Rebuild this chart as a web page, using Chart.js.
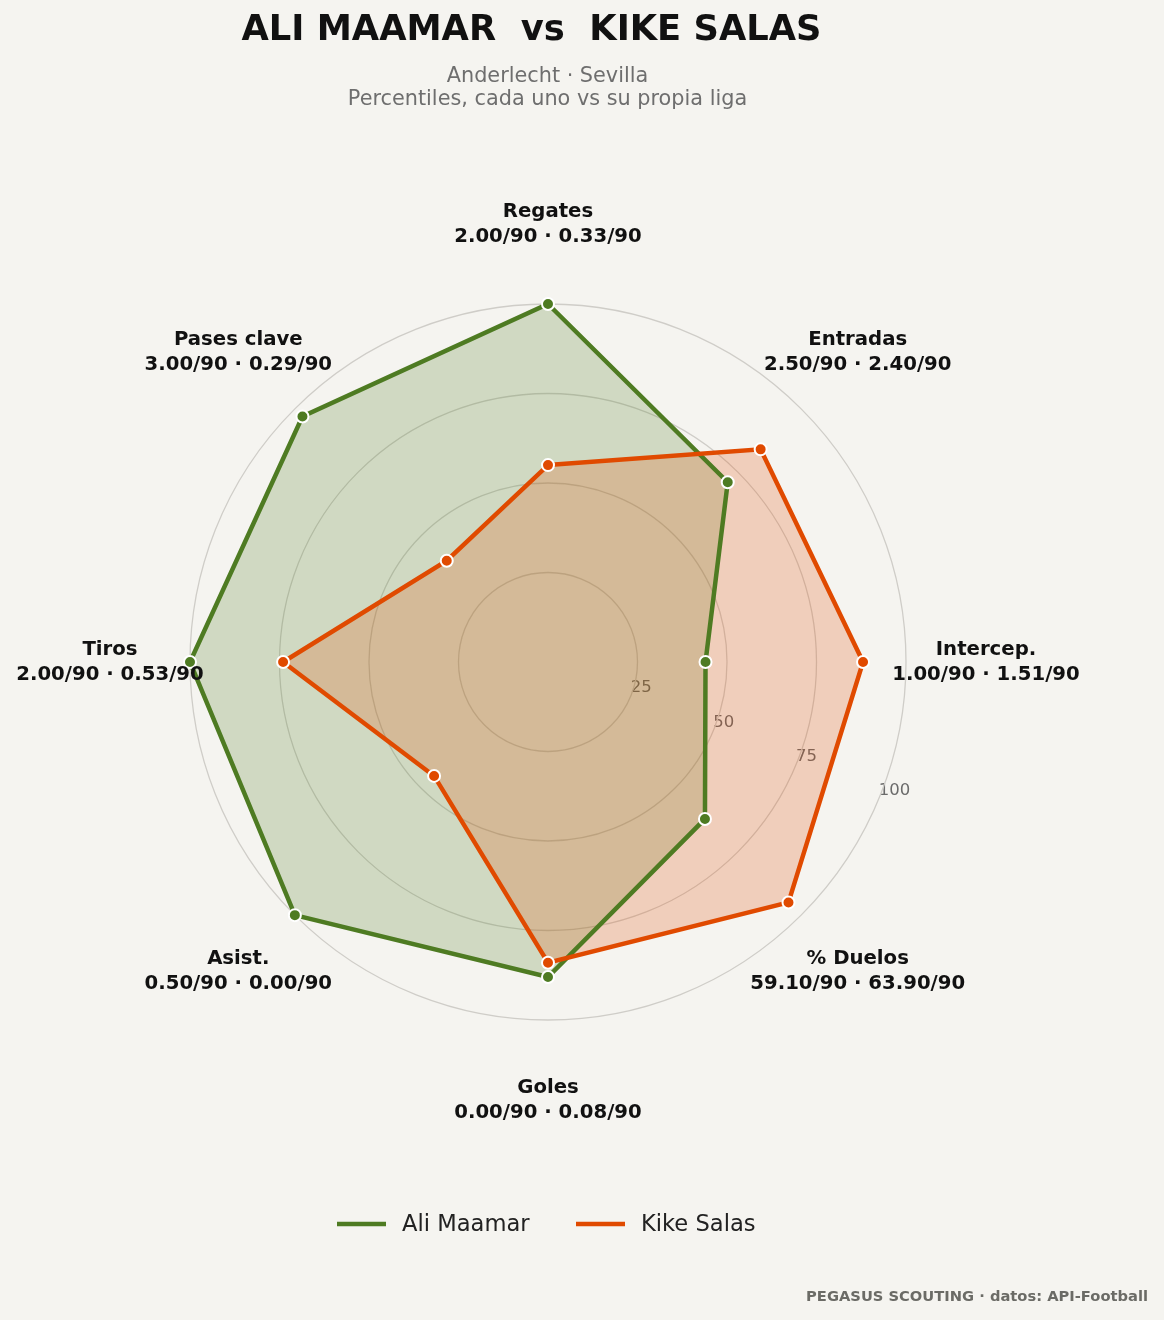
<!DOCTYPE html>
<html>
<head>
<meta charset="utf-8">
<script src="https://cdn.jsdelivr.net/npm/chart.js@4.4.1/dist/chart.umd.min.js"></script>
<style>
  html, body { margin: 0; padding: 0; background: #f5f4f0; }
  #wrap { width: 1164px; height: 1320px; position: relative; }
</style>
</head>
<body>
<div id="wrap"><canvas id="chart"></canvas></div>
<script>
// metric names around the radar
const categories = ['Regates', 'Entradas', 'Intercep.', '% Duelos', 'Goles', 'Asist.', 'Tiros', 'Pases clave'];

// percentiles (0-100), each player vs his own league
const aliMaamar = [100, 71, 44, 62, 88, 100, 100, 97];
const kikeSalas = [55, 84, 88, 95, 84, 45, 74, 40];

// raw per-90 values shown under each metric name
const aliPer90 = ['2.00', '2.50', '1.00', '59.10', '0.00', '0.50', '2.00', '3.00'];
const kikePer90 = ['0.33', '2.40', '1.51', '63.90', '0.08', '0.00', '0.53', '0.29'];

const tickValues = [25, 50, 75, 100];
const playerNames = ['Ali Maamar', 'Kike Salas'];

const green = '#4e7b22';
const orange = '#e04a00';
const font = '"DejaVu Sans", sans-serif';

const textPlugin = {
  id: 'textPlugin',
  beforeDraw(chart) {
    // radial tick labels, 22.5 deg below the horizontal (under the fills)
    const ctx = chart.ctx;
    const r = chart.scales.r;
    const ang = 22.5 * Math.PI / 180;
    ctx.save();
    ctx.font = '16.5px ' + font;
    ctx.fillStyle = '#6b6b6b';
    ctx.textAlign = 'left';
    ctx.textBaseline = 'bottom';
    tickValues.forEach(function (v) {
      const d = r.getDistanceFromCenterForValue(v);
      ctx.fillText(String(v), r.xCenter + d * Math.cos(ang), r.yCenter + d * Math.sin(ang));
    });
    ctx.restore();
  },
  afterDraw(chart) {
    const ctx = chart.ctx;
    const r = chart.scales.r;
    ctx.save();

    // title
    ctx.fillStyle = '#111111';
    ctx.textAlign = 'center';
    ctx.textBaseline = 'middle';
    ctx.font = 'bold 35.3px ' + font;
    ctx.fillText('ALI MAAMAR  vs  KIKE SALAS', 531.5, 31);

    ctx.fillStyle = '#6e6e6e';
    ctx.font = '20.8px ' + font;
    ctx.fillText('Anderlecht · Sevilla', 547.5, 77);
    ctx.fillText('Percentiles, cada uno vs su propia liga', 547.5, 100);

    // point labels
    ctx.fillStyle = '#111111';
    ctx.font = 'bold 19.7px ' + font;
    for (let i = 0; i < categories.length; i++) {
      const p = r.getPointPosition(i, r.drawingArea + 80);
      ctx.fillText(categories[i], p.x, p.y - 12.5);
      ctx.fillText(aliPer90[i] + '/90 · ' + kikePer90[i] + '/90', p.x, p.y + 12.5);
    }

    // legend
    const legendX = [337, 576];
    const colors = [green, orange];
    ctx.font = '22.6px ' + font;
    ctx.textAlign = 'left';
    ctx.fillStyle = '#222222';
    for (let i = 0; i < playerNames.length; i++) {
      ctx.strokeStyle = colors[i];
      ctx.lineWidth = 4.5;
      ctx.lineCap = 'butt';
      ctx.beginPath();
      ctx.moveTo(legendX[i], 1224);
      ctx.lineTo(legendX[i] + 49, 1224);
      ctx.stroke();
      ctx.fillText(playerNames[i], legendX[i] + 65, 1225);
    }

    // footer
    ctx.fillStyle = '#6b6b66';
    ctx.font = 'bold 14.7px ' + font;
    ctx.textAlign = 'right';
    ctx.fillText('PEGASUS SCOUTING · datos: API-Football', 1148, 1297);

    ctx.restore();
  }
};

const ctx = document.getElementById('chart').getContext('2d');
const chart = new Chart(ctx, {
  type: 'radar',
  data: {
    labels: categories,
    datasets: [
      {
        label: playerNames[0],
        data: aliMaamar,
        borderColor: green,
        backgroundColor: 'rgba(78, 123, 34, 0.22)',
        fill: true,
        borderWidth: 4.5,
        pointRadius: 6,
        pointBackgroundColor: green,
        pointBorderColor: '#ffffff',
        pointBorderWidth: 2,
        order: 1,
      },
      {
        label: playerNames[1],
        data: kikeSalas,
        borderColor: orange,
        backgroundColor: 'rgba(224, 74, 0, 0.22)',
        fill: true,
        borderWidth: 4.5,
        pointRadius: 6,
        pointBackgroundColor: orange,
        pointBorderColor: '#ffffff',
        pointBorderWidth: 2,
        order: 0,
      },
    ],
  },
  options: {
    responsive: true,
    maintainAspectRatio: false,
    animation: false,
    layout: {
      padding: { left: 190, right: 258, top: 304, bottom: 300 },
    },
    plugins: {
      legend: { display: false },
      title: { display: false },
      tooltip: { enabled: false },
      filler: { drawTime: 'beforeDatasetsDraw' },
    },
    scales: {
      r: {
        min: 0,
        max: 100,
        ticks: { stepSize: 25, display: false },
        grid: { circular: true, color: '#cfcdc8', lineWidth: 1.3 },
        angleLines: { display: false },
        pointLabels: { display: false },
      },
    },
  },
  plugins: [textPlugin],
});
</script>
</body>
</html>
